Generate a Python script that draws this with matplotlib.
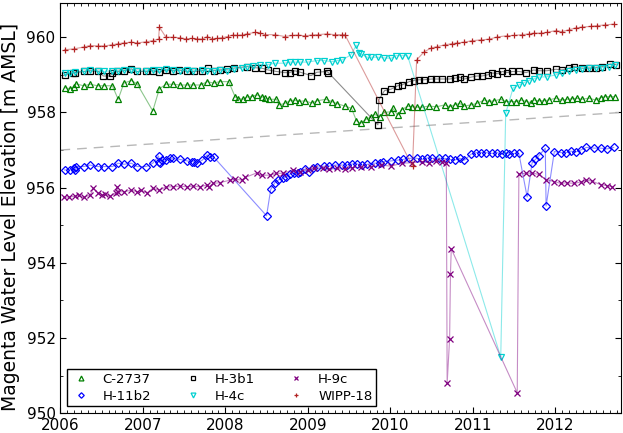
import matplotlib

matplotlib.use("Agg")
import matplotlib.pyplot as plt
from matplotlib.ticker import MultipleLocator

# ---------------------------------------------------------------- data
# decimal year, water level elevation [m AMSL]

c2737_t = [2006.05, 2006.12, 2006.16, 2006.19, 2006.28, 2006.36, 2006.45, 2006.53,
           2006.63, 2006.70, 2006.77, 2006.86, 2006.93, 2007.12, 2007.20, 2007.28,
           2007.37, 2007.45, 2007.54, 2007.61, 2007.70, 2007.78, 2007.86, 2007.93,
           2008.04, 2008.12, 2008.15, 2008.22, 2008.26, 2008.32, 2008.38, 2008.44,
           2008.48, 2008.53, 2008.62, 2008.65, 2008.72, 2008.78, 2008.84, 2008.89,
           2008.96, 2009.05, 2009.11, 2009.22, 2009.29, 2009.36, 2009.45, 2009.53,
           2009.59, 2009.64, 2009.71, 2009.77, 2009.81, 2009.87, 2009.93, 2010.01,
           2010.03, 2010.09, 2010.14, 2010.21, 2010.26, 2010.32, 2010.39, 2010.47,
           2010.56, 2010.66, 2010.72, 2010.78, 2010.84, 2010.90, 2010.98, 2011.05,
           2011.14, 2011.20, 2011.26, 2011.34, 2011.40, 2011.47, 2011.53, 2011.59,
           2011.65, 2011.71, 2011.74, 2011.80, 2011.86, 2011.92, 2012.01, 2012.08,
           2012.14, 2012.20, 2012.26, 2012.32, 2012.41, 2012.49, 2012.55, 2012.61,
           2012.67, 2012.72]
c2737_h = [958.66, 958.63, 958.69, 958.76, 958.71, 958.75, 958.71, 958.71,
           958.71, 958.35, 958.78, 958.85, 958.76, 958.04, 958.63, 958.75,
           958.75, 958.73, 958.73, 958.73, 958.73, 958.82, 958.78, 958.82,
           958.82, 958.41, 958.37, 958.35, 958.41, 958.42, 958.47, 958.42,
           958.38, 958.35, 958.35, 958.20, 958.24, 958.31, 958.33, 958.29,
           958.31, 958.25, 958.31, 958.35, 958.29, 958.23, 958.17, 958.11,
           957.78, 957.71, 957.82, 957.89, 957.95, 957.89, 958.00, 958.02,
           958.11, 957.93, 958.07, 958.17, 958.15, 958.14, 958.14, 958.17,
           958.15, 958.20, 958.15, 958.20, 958.24, 958.17, 958.20, 958.24,
           958.33, 958.29, 958.31, 958.35, 958.29, 958.29, 958.29, 958.33,
           958.29, 958.26, 958.33, 958.31, 958.31, 958.33, 958.38, 958.33,
           958.35, 958.36, 958.38, 958.35, 958.38, 958.33, 958.39, 958.42,
           958.42, 958.42]

h11b2_t = [2006.05, 2006.12, 2006.16, 2006.18, 2006.19, 2006.28, 2006.36, 2006.45,
           2006.53, 2006.63, 2006.70, 2006.77, 2006.86, 2006.93, 2007.04, 2007.12,
           2007.19, 2007.20, 2007.21, 2007.23, 2007.28, 2007.33, 2007.37, 2007.45,
           2007.54, 2007.60, 2007.62, 2007.66, 2007.72, 2007.78, 2007.81, 2007.86,
           2008.50, 2008.55, 2008.60, 2008.64, 2008.70, 2008.74, 2008.78, 2008.83,
           2008.88, 2008.91, 2008.96, 2009.02, 2009.06, 2009.11, 2009.20, 2009.26,
           2009.33, 2009.41, 2009.47, 2009.54, 2009.60, 2009.66, 2009.72, 2009.81,
           2009.87, 2009.91, 2010.01, 2010.09, 2010.15, 2010.23, 2010.32, 2010.38,
           2010.45, 2010.51, 2010.59, 2010.66, 2010.72, 2010.78, 2010.84, 2010.90,
           2010.98, 2011.04, 2011.10, 2011.16, 2011.24, 2011.30, 2011.36, 2011.40,
           2011.44, 2011.50, 2011.56, 2011.66, 2011.72, 2011.76, 2011.80, 2011.88,
           2011.89, 2011.99, 2012.07, 2012.13, 2012.19, 2012.25, 2012.31, 2012.38,
           2012.47, 2012.55, 2012.63, 2012.71]
h11b2_h = [956.47, 956.47, 956.51, 956.47, 956.56, 956.56, 956.60, 956.56,
           956.56, 956.56, 956.65, 956.62, 956.65, 956.56, 956.56, 956.65,
           956.84, 956.69, 956.65, 956.73, 956.73, 956.78, 956.78, 956.75,
           956.71, 956.69, 956.69, 956.66, 956.73, 956.87, 956.81, 956.81,
           955.25, 955.95, 956.13, 956.20, 956.25, 956.29, 956.36, 956.39,
           956.39, 956.42, 956.49, 956.42, 956.51, 956.54, 956.57, 956.57,
           956.60, 956.60, 956.60, 956.63, 956.63, 956.60, 956.62, 956.65,
           956.65, 956.69, 956.71, 956.73, 956.75, 956.78, 956.78, 956.75,
           956.79, 956.78, 956.78, 956.78, 956.75, 956.73, 956.78, 956.73,
           956.89, 956.93, 956.93, 956.93, 956.91, 956.93, 956.89, 956.93,
           956.89, 956.91, 956.91, 955.75, 956.66, 956.75, 956.84, 957.05,
           955.51, 956.96, 956.93, 956.93, 956.97, 956.95, 957.00, 957.07,
           957.05, 957.05, 957.03, 957.07]

h3b1_t = [2006.05, 2006.15, 2006.18, 2006.28, 2006.36, 2006.46, 2006.52, 2006.60,
          2006.63, 2006.69, 2006.77, 2006.86, 2006.93, 2007.04, 2007.12, 2007.20,
          2007.28, 2007.37, 2007.44, 2007.54, 2007.62, 2007.72, 2007.79, 2007.86,
          2007.93, 2008.02, 2008.10, 2008.26, 2008.36, 2008.44, 2008.52, 2008.62,
          2008.72, 2008.78, 2008.84, 2008.91, 2009.04, 2009.11, 2009.23, 2009.25,
          2009.85, 2009.86, 2009.93, 2010.01, 2010.09, 2010.14, 2010.23, 2010.29,
          2010.35, 2010.41, 2010.50, 2010.56, 2010.63, 2010.72, 2010.78, 2010.84,
          2010.90, 2010.98, 2011.05, 2011.11, 2011.18, 2011.24, 2011.30, 2011.36,
          2011.42, 2011.48, 2011.56, 2011.65, 2011.74, 2011.80, 2011.90, 2012.01,
          2012.08, 2012.17, 2012.23, 2012.32, 2012.41, 2012.49, 2012.57, 2012.67,
          2012.74]
h3b1_h = [959.00, 959.05, 959.06, 959.09, 959.11, 959.09, 958.97, 958.97,
          959.05, 959.09, 959.11, 959.16, 959.09, 959.09, 959.11, 959.07,
          959.13, 959.11, 959.13, 959.09, 959.09, 959.11, 959.18, 959.11,
          959.13, 959.15, 959.18, 959.22, 959.19, 959.18, 959.13, 959.09,
          959.06, 959.06, 959.11, 959.07, 958.98, 959.07, 959.09, 959.06,
          957.67, 958.33, 958.58, 958.62, 958.71, 958.73, 958.82, 958.85,
          958.87, 958.87, 958.89, 958.89, 958.89, 958.89, 958.91, 958.94,
          958.89, 958.94, 958.97, 958.97, 959.00, 959.05, 959.03, 959.09,
          959.06, 959.09, 959.09, 959.06, 959.13, 959.11, 959.11, 959.15,
          959.13, 959.18, 959.22, 959.18, 959.18, 959.19, 959.22, 959.29,
          959.27]

h4c_t = [2006.05, 2006.12, 2006.18, 2006.28, 2006.36, 2006.45, 2006.53, 2006.63,
         2006.70, 2006.77, 2006.86, 2006.93, 2007.04, 2007.12, 2007.20, 2007.28,
         2007.37, 2007.45, 2007.54, 2007.61, 2007.72, 2007.78, 2007.86, 2007.93,
         2008.02, 2008.10, 2008.20, 2008.26, 2008.33, 2008.42, 2008.52, 2008.60,
         2008.72, 2008.78, 2008.84, 2008.90, 2009.00, 2009.11, 2009.20, 2009.29,
         2009.36, 2009.42, 2009.52, 2009.59, 2009.62, 2009.65, 2009.72, 2009.77,
         2009.85, 2009.93, 2010.01, 2010.07, 2010.14, 2010.21, 2011.34, 2011.40,
         2011.49, 2011.56, 2011.62, 2011.68, 2011.74, 2011.80, 2011.90, 2012.01,
         2012.08, 2012.17, 2012.25, 2012.32, 2012.41, 2012.49, 2012.57, 2012.65,
         2012.72]
h4c_h = [959.05, 959.05, 959.07, 959.09, 959.13, 959.11, 959.09, 959.11,
         959.11, 959.13, 959.13, 959.09, 959.11, 959.13, 959.13, 959.15,
         959.13, 959.11, 959.13, 959.11, 959.13, 959.11, 959.11, 959.13,
         959.11, 959.15, 959.18, 959.22, 959.24, 959.27, 959.27, 959.31,
         959.31, 959.34, 959.34, 959.34, 959.34, 959.38, 959.38, 959.35,
         959.38, 959.40, 959.53, 959.79, 959.58, 959.55, 959.47, 959.47,
         959.47, 959.45, 959.44, 959.51, 959.51, 959.51, 951.49, 957.98,
         958.65, 958.73, 958.79, 958.85, 958.89, 958.94, 958.95, 959.00,
         959.06, 959.11, 959.13, 959.16, 959.18, 959.18, 959.19, 959.22,
         959.25]

h9c_t = [2006.04, 2006.10, 2006.18, 2006.22, 2006.28, 2006.36, 2006.40, 2006.45,
         2006.51, 2006.54, 2006.60, 2006.67, 2006.69, 2006.70, 2006.77, 2006.86,
         2006.93, 2006.98, 2007.05, 2007.12, 2007.20, 2007.28, 2007.37, 2007.45,
         2007.54, 2007.61, 2007.69, 2007.78, 2007.80, 2007.85, 2007.93, 2008.06,
         2008.12, 2008.20, 2008.24, 2008.38, 2008.44, 2008.54, 2008.62, 2008.70,
         2008.82, 2008.90, 2009.00, 2009.08, 2009.18, 2009.26, 2009.35, 2009.45,
         2009.54, 2009.65, 2009.77, 2009.89, 2010.01, 2010.14, 2010.26, 2010.38,
         2010.47, 2010.56, 2010.63, 2010.68, 2010.69, 2010.72, 2010.73, 2010.74,
         2011.54, 2011.56, 2011.65, 2011.72, 2011.80, 2011.89, 2011.99, 2012.07,
         2012.14, 2012.23, 2012.31, 2012.38, 2012.45, 2012.55, 2012.63, 2012.69]
h9c_h = [955.74, 955.75, 955.77, 955.79, 955.74, 955.80, 955.98, 955.86,
         955.80, 955.83, 955.77, 955.86, 956.02, 955.89, 955.89, 955.93,
         955.89, 955.93, 955.86, 955.98, 955.93, 956.02, 956.02, 956.04,
         956.02, 956.04, 956.02, 956.07, 956.02, 956.11, 956.13, 956.20,
         956.22, 956.20, 956.27, 956.39, 956.33, 956.33, 956.38, 956.38,
         956.47, 956.42, 956.48, 956.51, 956.51, 956.49, 956.51, 956.49,
         956.53, 956.54, 956.55, 956.60, 956.57, 956.65, 956.66, 956.69,
         956.66, 956.71, 956.69, 956.65, 950.79, 951.98, 953.69, 954.37,
         950.54, 956.36, 956.38, 956.39, 956.35, 956.21, 956.16, 956.11,
         956.13, 956.11, 956.15, 956.20, 956.17, 956.08, 956.05, 956.02]

wipp18_t = [2006.05, 2006.16, 2006.28, 2006.36, 2006.45, 2006.53, 2006.63, 2006.70,
            2006.77, 2006.86, 2006.93, 2007.04, 2007.12, 2007.19, 2007.20, 2007.28,
            2007.37, 2007.45, 2007.52, 2007.60, 2007.66, 2007.72, 2007.78, 2007.84,
            2007.90, 2007.96, 2008.03, 2008.09, 2008.14, 2008.20, 2008.26, 2008.36,
            2008.42, 2008.48, 2008.60, 2008.72, 2008.81, 2008.88, 2008.96, 2009.05,
            2009.12, 2009.23, 2009.33, 2009.41, 2009.45, 2010.27, 2010.32, 2010.41,
            2010.50, 2010.57, 2010.66, 2010.75, 2010.81, 2010.90, 2010.99, 2011.10,
            2011.20, 2011.30, 2011.41, 2011.50, 2011.60, 2011.68, 2011.74, 2011.83,
            2011.90, 2012.01, 2012.08, 2012.17, 2012.25, 2012.32, 2012.43, 2012.51,
            2012.61, 2012.71]
wipp18_h = [959.67, 959.69, 959.74, 959.78, 959.77, 959.77, 959.80, 959.83,
            959.85, 959.87, 959.85, 959.88, 959.91, 959.95, 960.27, 960.00,
            960.00, 959.99, 959.96, 959.97, 959.96, 959.95, 960.02, 959.96,
            959.97, 959.99, 960.02, 960.06, 960.05, 960.06, 960.09, 960.13,
            960.12, 960.07, 960.07, 960.02, 960.05, 960.06, 960.04, 960.06,
            960.07, 960.09, 960.07, 960.07, 960.07, 956.57, 959.40, 959.61,
            959.72, 959.75, 959.80, 959.83, 959.85, 959.87, 959.91, 959.93,
            959.95, 960.01, 960.04, 960.05, 960.07, 960.09, 960.11, 960.11,
            960.13, 960.18, 960.15, 960.20, 960.25, 960.27, 960.29, 960.31,
            960.33, 960.35]

# dashed grey reference line
ref_t = [2006.0, 2012.8]
ref_h = [957.0, 958.0]

series = [
    ("C-2737", c2737_t, c2737_h, "^", "green"),
    ("H-11b2", h11b2_t, h11b2_h, "D", "blue"),
    ("H-3b1", h3b1_t, h3b1_h, "s", "black"),
    ("H-4c", h4c_t, h4c_h, "v", "#00d0d0"),
    ("H-9c", h9c_t, h9c_h, "x", "purple"),
    ("WIPP-18", wipp18_t, wipp18_h, "+", "#b22222"),
]

# ---------------------------------------------------------------- plot

fig = plt.figure(figsize=(6.23, 4.33), dpi=100)
ax = fig.add_axes([0.097, 0.046, 0.9, 0.946])

ax.plot(ref_t, ref_h, color="0.72", lw=1.0, ls=(0, (7, 5)))

for name, t, h, mk, col in series:
    ax.plot(t, h, "-", color=col, lw=0.8, alpha=0.45)
    ms = 4.0 if mk == "D" else 5.0
    ax.plot(t, h, ls="none", marker=mk, ms=ms, mec=col, mfc="none",
            mew=0.9, label=name)

ax.set_xlim(2006, 2012.8)
ax.set_ylim(950, 960.9)
ax.xaxis.set_major_locator(MultipleLocator(1))
ax.xaxis.set_minor_locator(MultipleLocator(1 / 12))
ax.xaxis.set_major_formatter(plt.FuncFormatter(lambda v, p: f"{v:.0f}"))
ax.yaxis.set_major_locator(MultipleLocator(2))
ax.yaxis.set_minor_locator(MultipleLocator(1))
ax.tick_params(which="both", direction="in", top=True, right=True,
               labelsize=11)
ax.tick_params(which="major", length=4)
ax.tick_params(which="minor", length=2)
ax.set_ylabel("Magenta Water Level Elevation [m AMSL]", fontsize=13.5)
ax.yaxis.set_label_coords(-0.072, 0.48)

leg = ax.legend(loc="lower left", ncol=3, numpoints=1, markerscale=0.7,
                fontsize=9.5, fancybox=False, framealpha=1,
                edgecolor="black", borderaxespad=0.5, borderpad=0.3,
                labelspacing=0.3, handlelength=1.5, handletextpad=0.9,
                columnspacing=2.4)
leg.get_frame().set_linewidth(1.0)

fig.savefig("out.png", dpi=100)
